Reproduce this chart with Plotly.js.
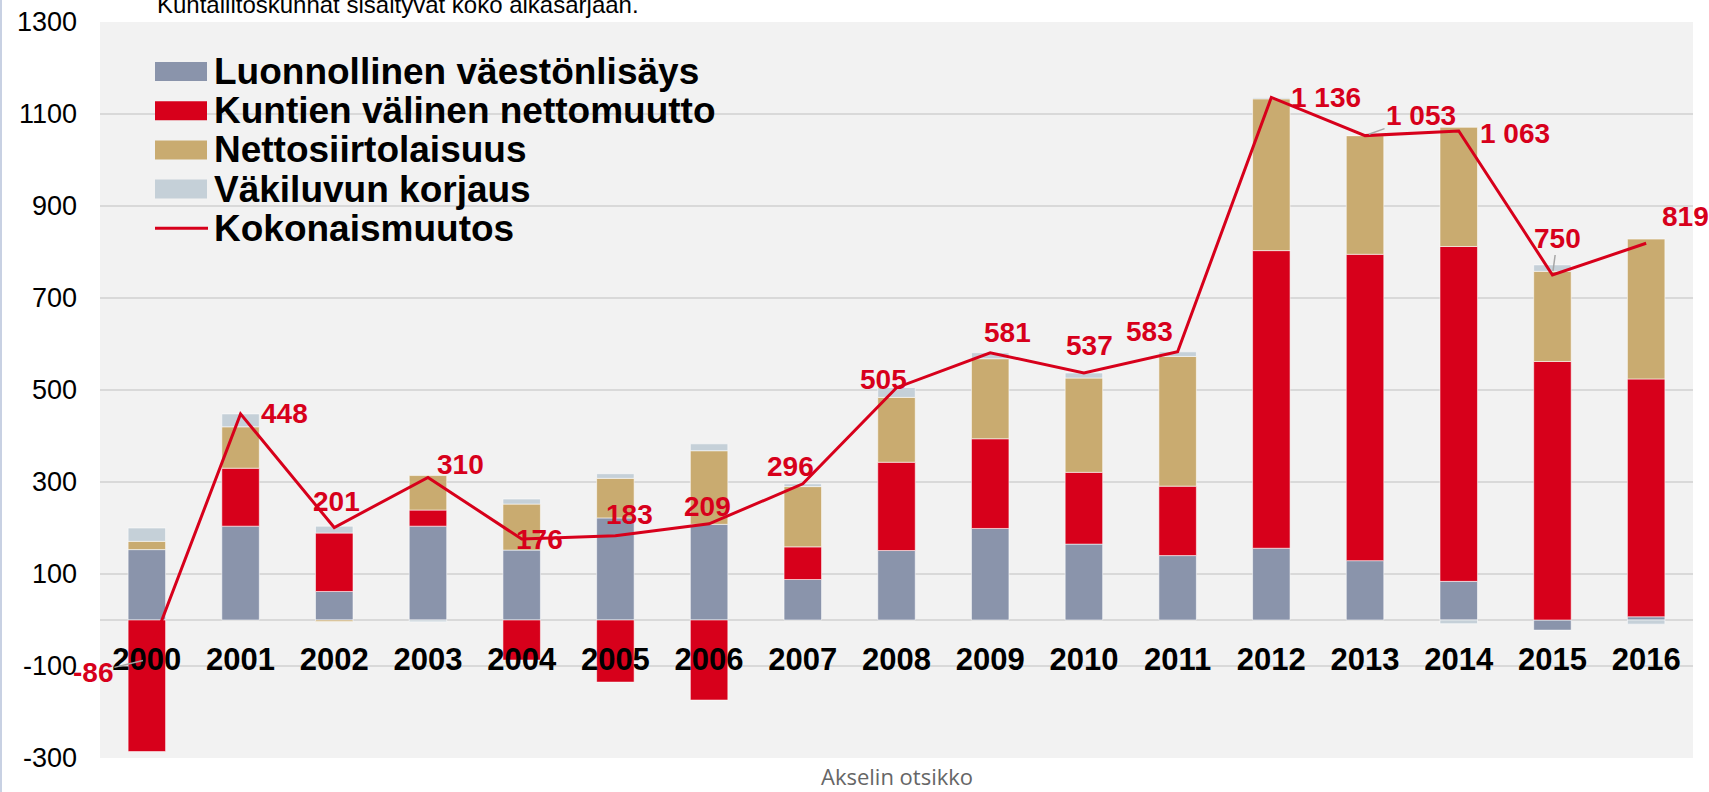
<!DOCTYPE html>
<html>
<head>
<meta charset="utf-8">
<script src="https://cdn.plot.ly/plotly-3.0.1.min.js"></script>
<style>
  html, body { margin: 0; padding: 0; background: #ffffff; }
  #chart { width: 1709px; height: 792px; }
</style>
</head>
<body>
<div id="chart"></div>
<script>
// ---- Data ----
const years = ['2000','2001','2002','2003','2004','2005','2006','2007','2008',
               '2009','2010','2011','2012','2013','2014','2015','2016'];
const luonnollinenVaestonlisays = [153, 204, 62, 204, 152, 222, 208, 88, 151, 199, 165, 140, 156, 129, 84, -22, 7];
const kuntienValinenNettomuutto = [-286, 126, 127, 35, -87, -135, -174, 71, 192, 195, 156, 151, 647, 666, 728, 562, 517];
const nettosiirtolaisuus        = [18, 90, -3, 75, 100, 86, 160, 131, 141, 174, 205, 282, 330, 258, 259, 196, 304];
const vakiluvunKorjaus          = [29, 28, 15, -4, 11, 10, 15, 6, 21, 13, 11, 10, 3, 0, -8, 14, -9];
const kokonaismuutos            = [-86, 448, 201, 310, 176, 183, 209, 296, 505, 581, 537, 583, 1136, 1053, 1063, 750, 819];
const yTickValues = [-300, -100, 100, 300, 500, 700, 900, 1100, 1300];

const seriesNames = ['Luonnollinen väestönlisäys', 'Kuntien välinen nettomuutto',
                     'Nettosiirtolaisuus', 'Väkiluvun korjaus', 'Kokonaismuutos'];
const subtitleText = 'Kuntaliitoskunnat sisältyvät koko aikasarjaan.';
const axisTitleText = 'Akselin otsikko';

// ---- Styles / layout configuration ----
const colors = ['#8a94ab', '#d7001b', '#c9ab70', '#c5d0d8', '#d7001b'];
const W = 1709, H = 792;
const M = {l: 100, r: 16, t: 22, b: 34};
const plotW = W - M.l - M.r, plotH = H - M.t - M.b;
const pxX = p => (p - M.l) / plotW;
const pxY = p => (H - M.b - p) / plotH;

// data-label offsets in pixels [dx, dyUp, leader]
const labelOffsets = [
  [-54, -13, true], [44, 0], [2, 26], [33, 13], [18, 0], [14, 21], [-2, 17], [-12, 17],
  [-13, 8], [17, 20], [6, 27], [-28, 20], [55, 0], [56, 20, true], [56, -2], [5, 37, true], [39, 27]
];

const fmt = v => {
  const s = String(Math.abs(v)).replace(/\B(?=(\d{3})+(?!\d))/g, ' ');
  return (v < 0 ? '-' : '') + s;
};

const barSeries = [luonnollinenVaestonlisays, kuntienValinenNettomuutto, nettosiirtolaisuus, vakiluvunKorjaus];
const traces = barSeries.map((vals, i) => ({
  type: 'bar',
  name: seriesNames[i],
  x: years,
  y: vals,
  marker: {color: colors[i], line: {color: 'rgba(255,255,255,0.55)', width: 1}},
  showlegend: false,
  hovertemplate: '%{x}: %{y}<extra>' + seriesNames[i] + '</extra>'
}));
traces.push({
  type: 'scatter',
  mode: 'lines',
  name: seriesNames[4],
  x: years,
  y: kokonaismuutos,
  line: {color: colors[4], width: 3},
  showlegend: false,
  hovertemplate: '%{x}: %{y}<extra>' + seriesNames[4] + '</extra>'
});

const labelFont = {family: '"Liberation Sans", Arial, sans-serif', size: 28, color: '#d7001b', weight: 'bold'};

// on a category axis annotations use the category index
const annotations = years.map((yr, i) => {
  const o = labelOffsets[i];
  const a = {x: i, y: kokonaismuutos[i], xref: 'x', yref: 'y', text: fmt(kokonaismuutos[i]), font: labelFont};
  if (o[2]) {
    Object.assign(a, {showarrow: true, ax: o[0], ay: -o[1], arrowhead: 0, arrowwidth: 1.5,
                      arrowcolor: '#a6a6a6', standoff: 4});
  } else {
    Object.assign(a, {showarrow: false, xshift: o[0], yshift: o[1]});
  }
  return a;
});

// subtitle (partly cut off at the top as in the reference)
annotations.push({xref: 'paper', yref: 'paper', x: pxX(155), y: pxY(4.5), xanchor: 'left', yanchor: 'middle',
  showarrow: false, text: subtitleText,
  font: {family: '"Liberation Sans", Arial, sans-serif', size: 24, color: '#000'}});
// axis title
annotations.push({xref: 'paper', yref: 'paper', x: 0.5, y: pxY(776), xanchor: 'center', yanchor: 'middle',
  showarrow: false, text: axisTitleText,
  font: {family: '"Open Sans", "Noto Sans", sans-serif', size: 22, color: '#666666'}});

// custom legend
const legendRowY = r => 71.5 + r * 39.2;
const shapes = [];
seriesNames.forEach((nm, r) => {
  const yc = legendRowY(r);
  if (r < 4) {
    shapes.push({type: 'rect', xref: 'paper', yref: 'paper', x0: pxX(155), x1: pxX(207),
      y0: pxY(yc - 9.5), y1: pxY(yc + 9.5), fillcolor: colors[r], line: {width: 0}});
  } else {
    shapes.push({type: 'line', xref: 'paper', yref: 'paper', x0: pxX(155), x1: pxX(208),
      y0: pxY(yc), y1: pxY(yc), line: {color: colors[r], width: 3}});
  }
  annotations.push({xref: 'paper', yref: 'paper', x: pxX(212), y: pxY(yc), xanchor: 'left', yanchor: 'middle',
    showarrow: false, text: nm,
    font: {family: '"Liberation Sans", Arial, sans-serif', size: 37, color: '#000', weight: 'bold'}});
});
// chart-area border at the left edge
shapes.push({type: 'line', xref: 'paper', yref: 'paper', x0: pxX(1), x1: pxX(1), y0: pxY(0), y1: pxY(H),
  line: {color: '#c8d1e3', width: 2}});

const layout = {
  width: W, height: H,
  margin: M,
  paper_bgcolor: '#ffffff',
  plot_bgcolor: '#f2f2f2',
  barmode: 'relative',
  bargap: 0.6,
  showlegend: false,
  xaxis: {
    type: 'category',
    range: [-0.5, years.length - 0.5],
    autorange: false,
    anchor: 'free',
    position: 300 / 1600,
    showgrid: false, zeroline: false, showline: false,
    ticks: '', ticklabelstandoff: 18,
    tickfont: {family: '"Liberation Sans", Arial, sans-serif', size: 31, color: '#000', weight: 'bold'},
    automargin: false, fixedrange: true
  },
  yaxis: {
    range: [-300, 1300],
    autorange: false,
    tickmode: 'array', tickvals: yTickValues, ticktext: yTickValues.map(String),
    showgrid: true, gridcolor: '#d9d9d9', gridwidth: 2,
    zeroline: true, zerolinecolor: '#d9d9d9', zerolinewidth: 2,
    showline: false, ticks: '', ticklabelstandoff: 22,
    tickfont: {family: '"Liberation Sans", Arial, sans-serif', size: 27, color: '#000'},
    automargin: false, fixedrange: true
  },
  annotations: annotations,
  shapes: shapes
};

Plotly.newPlot('chart', traces, layout, {displayModeBar: false});
</script>
</body>
</html>
